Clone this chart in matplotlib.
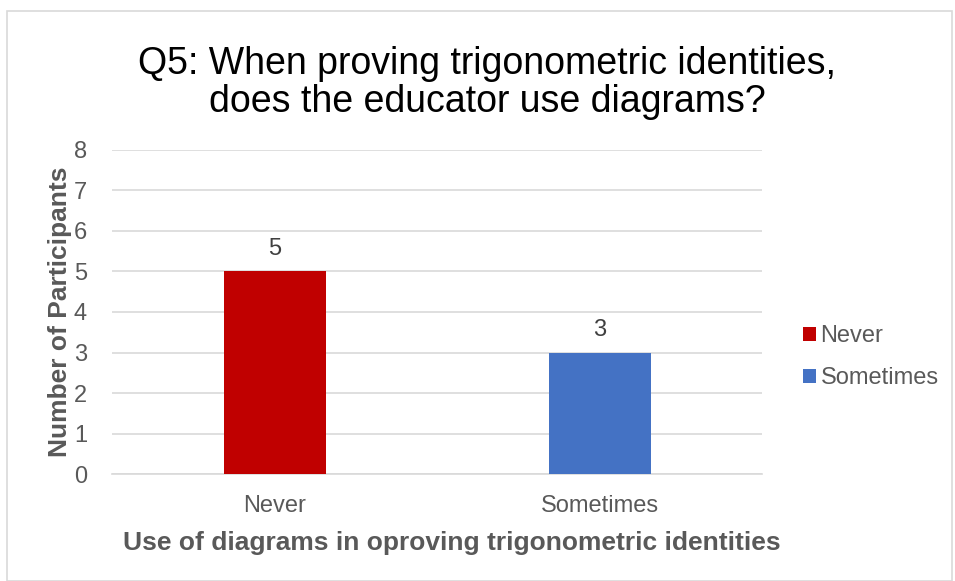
import matplotlib.pyplot as plt
from matplotlib.patches import Rectangle

plt.rcParams['font.family'] = ['Liberation Sans', 'DejaVu Sans']

categories = ['Never', 'Sometimes']
counts = [5, 3]
colors = ['#C00000', '#4472C4']

fig = plt.figure(figsize=(9.55, 5.81), dpi=100)
ax = fig.add_axes([0.1173, 0.184, 0.6807, 0.558])

# chart frame
fig.patches.append(Rectangle((0.007, 0.0), 0.99, 0.981, transform=fig.transFigure,
                             fill=False, edgecolor='#D9D9D9', linewidth=1.2))

x = range(len(categories))
bars = ax.bar(x, counts, width=0.314, color=colors, label=categories, zorder=3)

for b, v in zip(bars, counts):
    ax.text(b.get_x() + b.get_width() / 2, v + 0.28, str(v), ha='center', va='bottom',
            fontsize=17, color='#404040')

ax.set_xlim(-0.5, 1.5)
ax.set_ylim(0, 8)
ax.set_yticks(range(0, 9))
ax.set_xticks(list(x))
ax.set_xticklabels(categories)
ax.yaxis.grid(True, color='#D9D9D9', linewidth=1.2, zorder=0)
ax.tick_params(axis='both', length=0, labelsize=17, labelcolor='#595959')
ax.tick_params(axis='y', pad=18)
ax.tick_params(axis='x', pad=15)
for s in ['top', 'right', 'left']:
    ax.spines[s].set_visible(False)
ax.spines['bottom'].set_color('#D9D9D9')
ax.spines['bottom'].set_linewidth(1.2)

ax.set_ylabel('Number of Participants', fontsize=19, fontweight='bold', color='#595959',
              labelpad=1)
ax.set_xlabel('Use of diagrams in oproving trigonometric identities', fontsize=19,
              fontweight='bold', color='#595959', labelpad=10)
ax.xaxis.set_label_coords(0.523, -0.212, transform=ax.transAxes)
ax.xaxis.label.set_va('center')

fig.text(0.51, 0.857, 'Q5: When proving trigonometric identities,\ndoes the educator use diagrams?',
         ha='center', va='center', fontsize=27, color='#000000', linespacing=1.08)

ax.legend(loc='center left', bbox_to_anchor=(1.03, 0.36), frameon=False, fontsize=17,
          handlelength=0.55, handleheight=0.55, handletextpad=0.2, labelspacing=0.85,
          labelcolor='#595959')

fig.savefig('out.png', dpi=100)
